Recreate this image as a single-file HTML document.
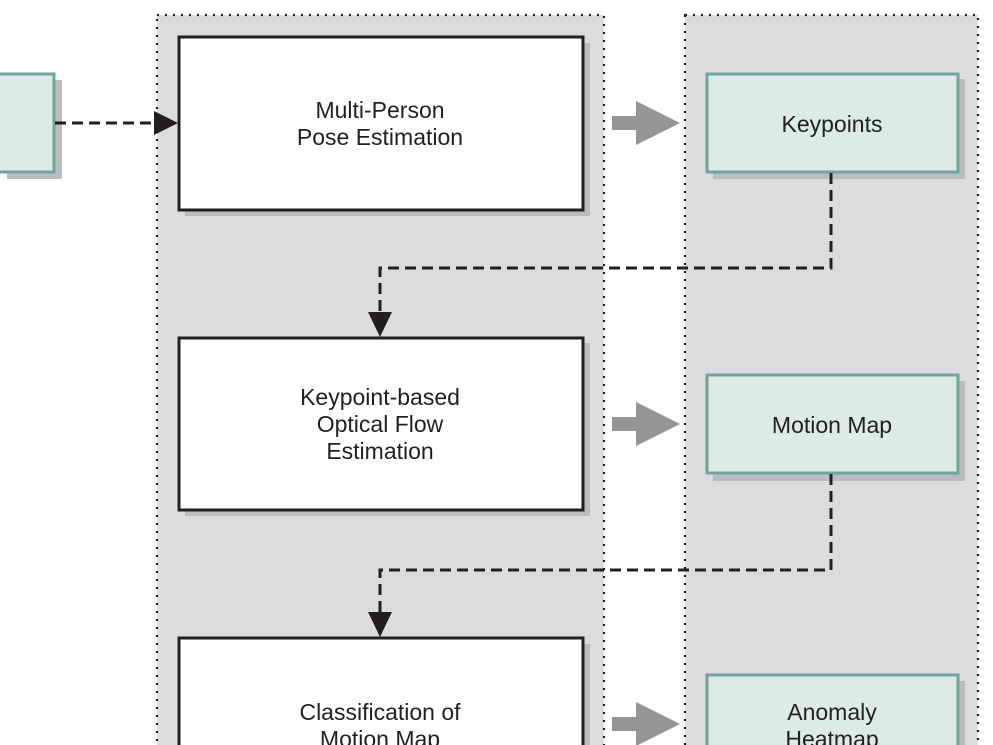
<!DOCTYPE html>
<html><head><meta charset="utf-8"><style>
html,body{margin:0;padding:0;background:#fff;width:993px;height:745px;overflow:hidden}
svg{display:block}
svg text{font-family:"Liberation Sans","DejaVu Sans",sans-serif;font-size:23px;fill:#231f20;text-anchor:middle}
</style></head><body>
<svg width="993" height="745" viewBox="0 0 993 745" xmlns="http://www.w3.org/2000/svg">
<rect x="157" y="15" width="447" height="740" fill="#dcdcde" stroke="#231f20" stroke-width="2.2" stroke-dasharray="2 6"/>
<rect x="685" y="15" width="293" height="740" fill="#dcdcde" stroke="#231f20" stroke-width="2.2" stroke-dasharray="2 6"/>
<rect x="7" y="80" width="55" height="99" fill="#bcbcbf"/>
<rect x="-5" y="74" width="59" height="98" fill="#dcebe6" stroke="#6fa699" stroke-width="3"/>
<g>
<rect x="185" y="43" width="405" height="173" fill="#bcbcbf"/>
<rect x="179" y="37" width="404" height="173" fill="#fff" stroke="#231f20" stroke-width="3"/>
<text x="380" y="118">Multi-Person</text><text x="380" y="145">Pose Estimation</text>
<rect x="185" y="343" width="405" height="173" fill="#bcbcbf"/>
<rect x="179" y="338" width="404" height="172" fill="#fff" stroke="#231f20" stroke-width="3"/>
<text x="380" y="405">Keypoint-based</text><text x="380" y="432">Optical Flow</text><text x="380" y="459">Estimation</text>
<rect x="185" y="644" width="405" height="173" fill="#bcbcbf"/>
<rect x="179" y="638" width="404" height="172" fill="#fff" stroke="#231f20" stroke-width="3"/>
<text x="380" y="720">Classification of</text><text x="380" y="747">Motion Map</text>
</g>
<rect x="713" y="79" width="252" height="100" fill="#bcbcbf"/>
<rect x="707" y="74" width="251" height="98" fill="#dcebe6" stroke="#6fa699" stroke-width="3"/>
<text x="832" y="132">Keypoints</text>
<rect x="713" y="381" width="252" height="100" fill="#bcbcbf"/>
<rect x="707" y="375" width="251" height="98" fill="#dcebe6" stroke="#6fa699" stroke-width="3"/>
<text x="832" y="433">Motion Map</text>
<rect x="713" y="681" width="252" height="100" fill="#bcbcbf"/>
<rect x="707" y="675" width="251" height="98" fill="#dcebe6" stroke="#6fa699" stroke-width="3"/>
<text x="832" y="720">Anomaly</text><text x="832" y="747">Heatmap</text>
<g fill="#959598">
<path d="M612 116H636V101L680 123L636 145V130H612Z"/>
<path d="M612 417H636V402L680 424L636 446V431H612Z"/>
<path d="M612 717H636V702L680 724L636 746V731H612Z"/>
</g>
<g fill="none" stroke="#231f20" stroke-width="3" stroke-dasharray="11 6">
<path d="M55 123H156"/>
<path d="M831 173V268H380V312"/>
<path d="M831 474V570H380V612"/>
</g>
<g fill="#231f20">
<path d="M154 111L178 123L154 135Z"/>
<path d="M368 312L380 337L392 312Z"/>
<path d="M368 612L380 637L392 612Z"/>
</g>
</svg>
</body></html>
